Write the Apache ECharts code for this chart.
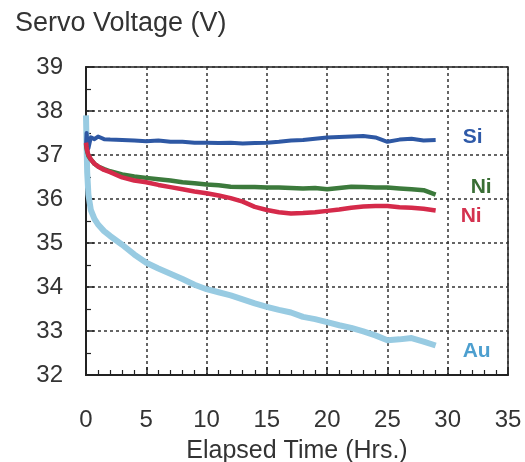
<!DOCTYPE html>
<html>
<head>
<meta charset="utf-8">
<title>Servo Voltage</title>
<script src="https://cdn.jsdelivr.net/npm/echarts@6/dist/echarts.min.js"></script>
<style>
  html, body { margin: 0; padding: 0; background: #fff; }
  #chart { width: 525px; height: 462px; }
</style>
</head>
<body>
<div id="chart"></div>
<script>
// elapsed time (hrs) shared by all traces
var hours = [0, 0.05, 0.1, 0.2, 0.4, 0.7, 1, 1.5, 2, 3, 4, 5, 6, 7, 8, 9, 10, 11, 12, 13, 14,
  15, 16, 17, 18, 19, 20, 21, 22, 23, 24, 25, 26, 27, 28, 29];

// servo voltage (V)
var siVolt = [37.20, 37.50, 37.30, 37.15, 37.40, 37.36, 37.42, 37.36, 37.35, 37.34, 37.33, 37.31,
  37.33, 37.30, 37.30, 37.28, 37.28, 37.27, 37.28, 37.26, 37.27, 37.28, 37.30, 37.33, 37.34, 37.37,
  37.40, 37.41, 37.42, 37.43, 37.40, 37.30, 37.35, 37.37, 37.33, 37.34];
var niGreenVolt = [37.25, 37.15, 37.08, 36.98, 36.90, 36.80, 36.74, 36.68, 36.63, 36.56, 36.51, 36.48,
  36.45, 36.42, 36.38, 36.36, 36.33, 36.31, 36.28, 36.27, 36.27, 36.26, 36.26, 36.25, 36.24, 36.25,
  36.22, 36.25, 36.28, 36.27, 36.26, 36.26, 36.24, 36.22, 36.20, 36.10];
var niRedVolt = [37.28, 37.18, 37.10, 37.00, 36.90, 36.80, 36.74, 36.66, 36.61, 36.49, 36.42, 36.38,
  36.32, 36.27, 36.22, 36.17, 36.13, 36.08, 36.02, 35.94, 35.82, 35.75, 35.70, 35.67, 35.68, 35.70,
  35.73, 35.76, 35.80, 35.83, 35.84, 35.84, 35.81, 35.80, 35.78, 35.74];
var auVolt = [37.90, 37.20, 36.60, 36.10, 35.75, 35.55, 35.42, 35.27, 35.16, 34.96, 34.74, 34.55,
  34.42, 34.30, 34.18, 34.05, 33.95, 33.88, 33.81, 33.72, 33.63, 33.55, 33.48, 33.42, 33.32, 33.27,
  33.20, 33.13, 33.07, 32.99, 32.90, 32.79, 32.81, 32.84, 32.76, 32.67];

var xTicks = [0, 35, 5];   // min, max, step
var yTicks = [32, 39, 1];

function pairs(vals) {
  return hours.map(function(h, i) { return [h, vals[i]]; });
}

var font = "Liberation Sans";
var chart = echarts.init(document.getElementById("chart"), null, { renderer: "canvas" });

function trace(name, vals, color, width, labelColor, dist, dy, z) {
  return {
    name: name,
    type: "line",
    data: pairs(vals),
    showSymbol: false,
    z: z,
    lineStyle: { color: color, width: width, join: "round" },
    endLabel: {
      show: true,
      formatter: name.trim(),
      color: labelColor,
      fontFamily: font,
      fontSize: 21,
      fontWeight: "bold",
      distance: dist,
      offset: [0, dy]
    }
  };
}

chart.setOption({
  animation: false,
  backgroundColor: "#ffffff",
  title: {
    text: "Servo Voltage (V)",
    left: 10,
    top: 5,
    textStyle: { fontFamily: font, fontSize: 27, fontWeight: "normal", color: "#333" }
  },
  grid: {
    left: 86,
    right: 17,
    top: 67,
    bottom: 87,
    outerBoundsMode: "none",
    show: true,
    borderColor: "#222",
    borderWidth: 1.5
  },
  xAxis: {
    type: "value",
    min: xTicks[0],
    max: xTicks[1],
    interval: xTicks[2],
    name: "Elapsed Time (Hrs.)",
    nameLocation: "middle",
    nameGap: 64,
    nameTextStyle: { fontFamily: font, fontSize: 25, color: "#333" },
    axisLine: { lineStyle: { color: "#222", width: 2 } },
    axisTick: { inside: true, length: 8, lineStyle: { color: "#222", width: 1.5 } },
    minorTick: { show: true, splitNumber: 5, length: 5, lineStyle: { color: "#222", width: 1.2 } },
    axisLabel: { margin: 33, fontFamily: font, fontSize: 24, color: "#333" },
    splitLine: { show: true, lineStyle: { color: "#333", width: 1.5, type: [3, 3] } }
  },
  yAxis: {
    type: "value",
    min: yTicks[0],
    max: yTicks[1],
    interval: yTicks[2],
    axisLine: { show: true, lineStyle: { color: "#222", width: 2 } },
    axisTick: { show: true, inside: true, length: 8, lineStyle: { color: "#222", width: 1.5 } },
    minorTick: { show: true, splitNumber: 2, length: 5, lineStyle: { color: "#222", width: 1.2 } },
    axisLabel: { margin: 23, fontFamily: font, fontSize: 24, color: "#333", padding: [6, 0, 0, 0] },
    splitLine: { show: true, lineStyle: { color: "#333", width: 1.5, type: [3, 3] } }
  },
  series: [
    trace("Au", auVolt, "#98cbe2", 6, "#4d9fcf", 27, 6, 2),
    trace("Si", siVolt, "#2e58a4", 4, "#2f5aa8", 27, -3, 3),
    trace("Ni", niGreenVolt, "#3c7a3c", 4.5, "#3a6e35", 35, -7, 4),
    trace("Ni ", niRedVolt, "#d52a4a", 4.5, "#d4324f", 25, 6, 5)
  ]
});
</script>
</body>
</html>
